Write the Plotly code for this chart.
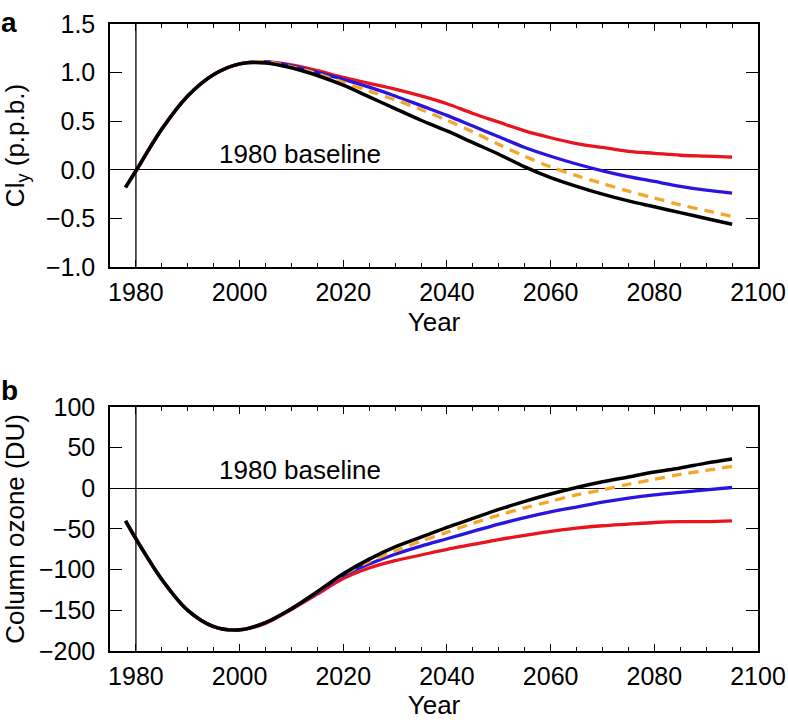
import plotly.graph_objects as go
from plotly.subplots import make_subplots

years = [1978, 1980, 1985, 1990, 1995, 2000, 2005, 2010, 2015, 2020, 2025, 2030,
         2035, 2040, 2045, 2050, 2055, 2060, 2065, 2070, 2075, 2080, 2085, 2090, 2095]

# panel a: Cly anomaly (p.p.b.)
cly_red = [-0.18, -0.01, 0.42, 0.76, 0.98, 1.09, 1.11, 1.08, 1.02, 0.95, 0.89, 0.83,
           0.76, 0.68, 0.58, 0.49, 0.40, 0.33, 0.27, 0.23, 0.19, 0.17, 0.15, 0.14, 0.13]
cly_blue = [-0.18, -0.01, 0.42, 0.76, 0.98, 1.09, 1.11, 1.07, 1.00, 0.93, 0.85, 0.76,
            0.66, 0.56, 0.45, 0.34, 0.23, 0.14, 0.06, -0.01, -0.07, -0.12, -0.17, -0.21, -0.24]
cly_orange = [-0.18, -0.01, 0.42, 0.76, 0.98, 1.09, 1.11, 1.06, 0.99, 0.90, 0.81, 0.72,
              0.62, 0.51, 0.39, 0.26, 0.14, 0.03, -0.06, -0.14, -0.22, -0.29, -0.36, -0.42, -0.48]
cly_black = [-0.18, -0.01, 0.42, 0.76, 0.98, 1.09, 1.10, 1.05, 0.97, 0.87, 0.75, 0.63,
             0.51, 0.40, 0.28, 0.16, 0.03, -0.08, -0.17, -0.25, -0.32, -0.38, -0.44, -0.50, -0.56]

# panel b: column ozone anomaly (DU)
oz_red = [-40, -62, -112, -150, -170, -174, -166, -149, -130, -111, -98, -89,
          -82, -75, -69, -63, -58, -53, -49, -46, -44, -42, -41, -41, -40]
oz_blue = [-40, -62, -112, -150, -170, -174, -165, -148, -128, -107, -93, -81,
           -71, -62, -53, -44, -36, -29, -23, -17, -12, -8, -5, -2, 1]
oz_orange = [-40, -62, -112, -150, -170, -174, -165, -148, -127, -106, -90, -77,
             -65, -54, -43, -33, -24, -16, -8, -2, 5, 11, 17, 22, 27]
oz_black = [-40, -62, -112, -150, -170, -174, -165, -148, -127, -105, -87, -72,
            -60, -48, -37, -26, -16, -7, 1, 8, 14, 20, 25, 31, 36]

RED = "#e8141e"
BLUE = "#2a14e0"
ORANGE = "#f4a52a"
FONT = "Liberation Sans, Arial, sans-serif"

fig = make_subplots(rows=2, cols=1)

panels = [
    (1, [cly_red, cly_blue, cly_orange, cly_black]),
    (2, [oz_red, oz_blue, oz_orange, oz_black]),
]
styles = [
    dict(color=RED, width=3.3),
    dict(color=BLUE, width=3.3),
    dict(color=ORANGE, width=3.3, dash="10px,7px"),
    dict(color="black", width=3.5),
]
for row, series in panels:
    for vals, st in zip(series, styles):
        fig.add_trace(
            go.Scatter(x=years, y=vals, mode="lines",
                       line=dict(shape="spline", smoothing=0.9, **st),
                       showlegend=False, hoverinfo="skip"),
            row=row, col=1,
        )
    # 1980 reference year
    fig.add_vline(x=1980, line=dict(color="black", width=1.3), row=row, col=1)

fig.update_xaxes(
    range=[1975, 2100], tick0=1980, dtick=20,
    ticks="inside", ticklen=7, tickwidth=1.3, tickcolor="black",
    minor=dict(dtick=5, tick0=1980, ticks="inside", ticklen=4, tickwidth=1.3, tickcolor="black"),
    showline=True, linewidth=1.5, linecolor="black", mirror="ticks",
    showgrid=False, zeroline=False, automargin=False,
    tickfont=dict(family=FONT, size=25, color="black"),
    ticklabelstandoff=2,
    title=dict(text="Year", font=dict(family=FONT, size=26, color="black"), standoff=8),
)
fig.update_yaxes(
    ticks="inside", ticklen=12, tickwidth=1.3, tickcolor="black",
    showline=True, linewidth=1.5, linecolor="black", mirror="ticks",
    showgrid=False, zeroline=True, zerolinecolor="black", zerolinewidth=1.3,
    automargin=False,
    tickfont=dict(family=FONT, size=25, color="black"),
    ticklabelstandoff=8,
)

fig.update_layout(
    width=788, height=720,
    margin=dict(l=110, r=30, t=24, b=69),
    plot_bgcolor="white", paper_bgcolor="white",
    font=dict(family=FONT, size=25, color="black"),
    yaxis=dict(domain=[0.6124, 1], range=[-1.0, 1.5], dtick=0.5, tickformat=".1f",
               title=dict(text="Cl<sub>y</sub> (p.p.b.)", standoff=14,
                          font=dict(family=FONT, size=26, color="black"))),
    yaxis2=dict(domain=[0, 0.3892], range=[-200, 100], dtick=50,
                title=dict(text="Column ozone (DU)", standoff=14,
                           font=dict(family=FONT, size=26, color="black"))),
    annotations=[
        dict(text="1980 baseline", x=2011.7, y=0.165, xref="x", yref="y",
             showarrow=False, font=dict(family=FONT, size=26, color="black")),
        dict(text="1980 baseline", x=2011.7, y=22, xref="x2", yref="y2",
             showarrow=False, font=dict(family=FONT, size=26, color="black")),
        dict(text="<b>a</b>", x=-0.172, y=1.0303, xref="paper", yref="paper",
             xanchor="left", yanchor="top", showarrow=False,
             font=dict(family=FONT, size=28, color="black")),
        dict(text="<b>b</b>", x=-0.172, y=0.4434, xref="paper", yref="paper",
             xanchor="left", yanchor="top", showarrow=False,
             font=dict(family=FONT, size=28, color="black")),
    ],
)

fig.write_html("out.html", config={"displayModeBar": False},
               post_script="document.body.style.margin='0';")
